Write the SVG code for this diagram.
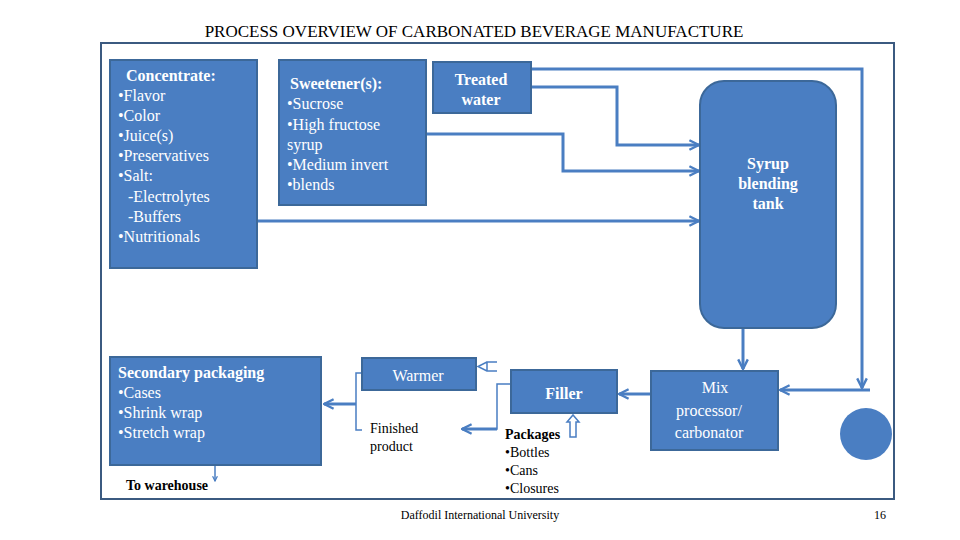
<svg xmlns="http://www.w3.org/2000/svg" width="960" height="540" viewBox="0 0 960 540">
<defs>
<style>
.box{fill:#4a7ec2;stroke:#3c6899;stroke-width:2}
.w{fill:#fff;font-family:"Liberation Serif",serif;font-size:16px}
.wb{fill:#fff;font-family:"Liberation Serif",serif;font-size:16px;font-weight:bold}
.k{fill:#000;font-family:"Liberation Serif",serif;font-size:14px}
.c{fill:none;stroke:#4a7ec2;stroke-width:3}
.t{fill:none;stroke:#4a7ec2;stroke-width:1.5}
</style>
<marker id="a" viewBox="0 0 10 10" refX="9" refY="5" markerWidth="4" markerHeight="4" orient="auto"><path d="M1,1 L9,5 L1,9" fill="none" stroke="#4a7ec2" stroke-width="2"/></marker>
</defs>
<rect width="960" height="540" fill="#fff"/>
<text x="474" y="37" text-anchor="middle" font-family="Liberation Serif,serif" font-size="17">PROCESS OVERVIEW OF CARBONATED BEVERAGE MANUFACTURE</text>
<rect x="101" y="43" width="793" height="456" fill="none" stroke="#3b5a80" stroke-width="2"/>
<g id="connectors">
<path class="c" d="M531,69 H862 V388" marker-end="url(#a)"/>
<path class="c" d="M870,390 H780" marker-end="url(#a)"/>
<path class="c" d="M531,87 H617 V145 H699" marker-end="url(#a)"/>
<path class="c" d="M426,134 H563 V171 H699" marker-end="url(#a)"/>
<path class="c" d="M257,221 H699" marker-end="url(#a)"/>
<path class="c" d="M743,328 V369" marker-end="url(#a)"/>
<path class="c" d="M651,394 H619" marker-end="url(#a)"/>
<path class="t" d="M511,384 H497 V429 H462" marker-end="url(#a)"/>
<path class="c" d="M497,429 H462" marker-end="url(#a)"/>
<path class="t" d="M497,362 H487 V371 H497 M487,362 L478,366.5 L487,371"/>
<path class="t" d="M362,373 H356 V430 H362"/>
<path class="c" d="M356,404 H324" marker-end="url(#a)"/>
<path class="t" d="M570,437 V422 H567 L573,415 L579,422 H576 V437 Z"/>
<path class="t" d="M215,466 V481" marker-end="url(#a)"/>
</g>
<g id="concentrate"><rect class="box" x="110" y="60" width="147" height="208"/>
<text class="wb" x="126" y="81">Concentrate:</text>
<text class="w" x="118" y="101">•Flavor</text><text class="w" x="118" y="121">•Color</text><text class="w" x="118" y="141">•Juice(s)</text><text class="w" x="118" y="161">•Preservatives</text><text class="w" x="118" y="181">•Salt:</text><text class="w" x="128" y="202">-Electrolytes</text><text class="w" x="128" y="222">-Buffers</text><text class="w" x="118" y="242">•Nutritionals</text></g>
<g id="sweetener"><rect class="box" x="279" y="60" width="147" height="145"/>
<text class="wb" x="290" y="89">Sweetener(s):</text>
<text class="w" x="287" y="109">•Sucrose</text><text class="w" x="287" y="130">•High fructose</text><text class="w" x="287" y="150">syrup</text><text class="w" x="287" y="170">•Medium invert</text><text class="w" x="287" y="190">•blends</text></g>
<g id="water"><rect class="box" x="433" y="62" width="98" height="51"/>
<text class="wb" x="481" y="85" text-anchor="middle">Treated</text><text class="wb" x="481" y="105" text-anchor="middle">water</text></g>
<g id="tank"><rect class="box" x="700" y="81" width="136" height="247" rx="24"/>
<text class="wb" x="768" y="169" text-anchor="middle">Syrup</text><text class="wb" x="768" y="189" text-anchor="middle">blending</text><text class="wb" x="768" y="209" text-anchor="middle">tank</text></g>
<g id="mix"><rect class="box" x="651" y="371" width="127" height="79"/>
<text class="w" x="715" y="393" text-anchor="middle" font-size="19">Mix</text><text class="w" x="709" y="416" text-anchor="middle" font-size="19">processor/</text><text class="w" x="709" y="438" text-anchor="middle" font-size="19">carbonator</text></g>
<g id="circle"><circle cx="866" cy="434" r="26" fill="#4a7ec2"/></g>
<g id="filler"><rect class="box" x="511" y="370" width="106" height="43"/>
<text class="wb" x="564" y="399" text-anchor="middle">Filler</text></g>
<g id="warmer"><rect class="box" x="362" y="358" width="114" height="32"/>
<text class="w" x="418" y="381" text-anchor="middle" font-size="19">Warmer</text></g>
<g id="finished"><text class="k" x="370" y="433">Finished</text><text class="k" x="370" y="451">product</text></g>
<g id="packages"><text class="k" x="505" y="439" font-weight="bold">Packages</text><text class="k" x="505" y="457">•Bottles</text><text class="k" x="505" y="475">•Cans</text><text class="k" x="505" y="493">•Closures</text></g>
<g id="secondary"><rect class="box" x="110" y="357" width="211" height="108"/>
<text class="wb" x="118" y="378">Secondary packaging</text>
<text class="w" x="118" y="398">•Cases</text><text class="w" x="118" y="418">•Shrink wrap</text><text class="w" x="118" y="438">•Stretch wrap</text></g>
<g id="warehouse"><text class="k" x="126" y="490" font-weight="bold">To warehouse</text></g>
<text x="480" y="519" text-anchor="middle" font-family="Liberation Serif,serif" font-size="12">Daffodil International University</text>
<text x="880" y="519" text-anchor="middle" font-family="Liberation Serif,serif" font-size="12">16</text>
</svg>
